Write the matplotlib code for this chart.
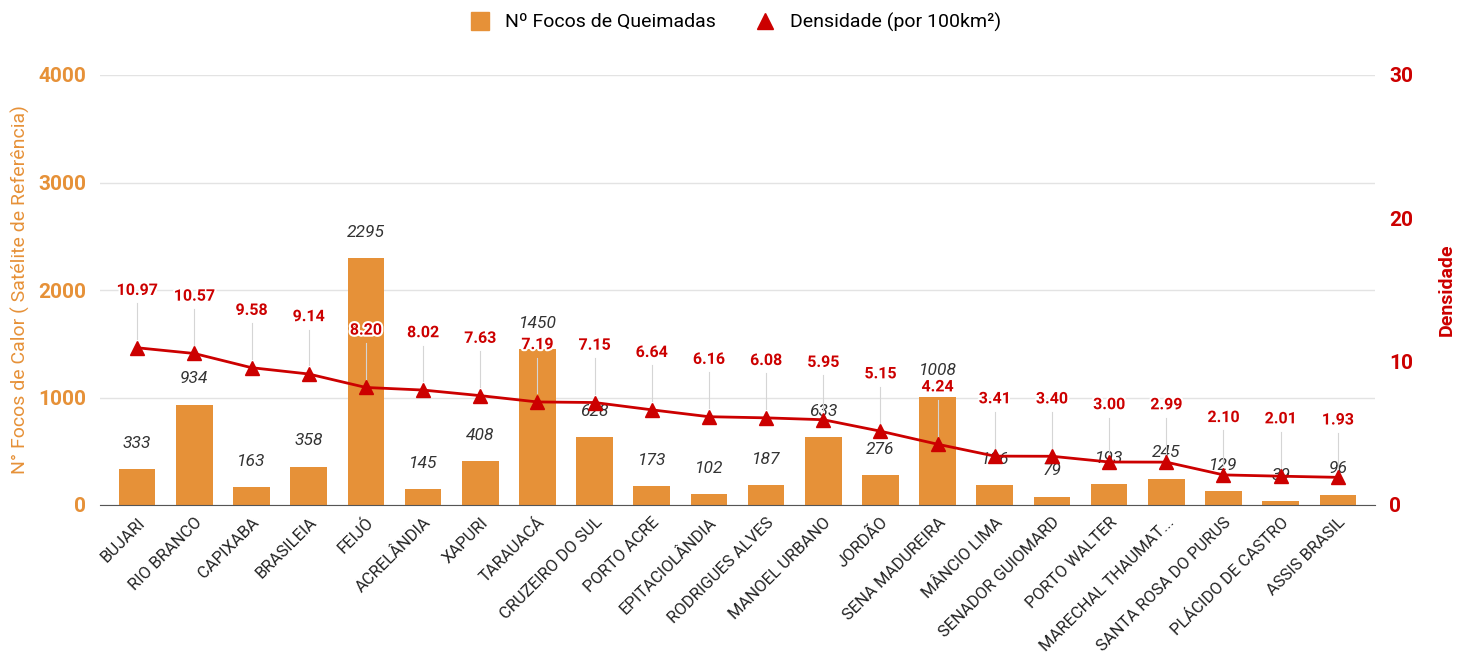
import numpy as np
import matplotlib
matplotlib.use('Agg')
import matplotlib.pyplot as plt
import matplotlib.patheffects as pe
from matplotlib.lines import Line2D

plt.rcParams['font.family'] = ['Roboto', 'DejaVu Sans']

municipios = [
    'BUJARI', 'RIO BRANCO', 'CAPIXABA', 'BRASILEIA', 'FEIJÓ', 'ACRELÂNDIA',
    'XAPURI', 'TARAUACÁ', 'CRUZEIRO DO SUL', 'PORTO ACRE', 'EPITACIOLÂNDIA',
    'RODRIGUES ALVES', 'MANOEL URBANO', 'JORDÃO', 'SENA MADUREIRA',
    'MÂNCIO LIMA', 'SENADOR GUIOMARD', 'PORTO WALTER', 'MARECHAL THAUMAT...',
    'SANTA ROSA DO PURUS', 'PLÁCIDO DE CASTRO', 'ASSIS BRASIL',
]
focos = [333, 934, 163, 358, 2295, 145, 408, 1450, 628, 173, 102,
         187, 633, 276, 1008, 186, 79, 193, 245, 129, 39, 96]
densidade = [10.97, 10.57, 9.58, 9.14, 8.20, 8.02, 7.63, 7.19, 7.15, 6.64, 6.16,
             6.08, 5.95, 5.15, 4.24, 3.41, 3.40, 3.00, 2.99, 2.10, 2.01, 1.93]

ORANGE = '#E69138'
RED = '#CC0000'

fig = plt.figure(figsize=(14.62, 6.58), dpi=100)
ax = fig.add_axes([100 / 1462, 1 - 505 / 658, 1275 / 1462, 430 / 658])
ax2 = ax.twinx()

x = np.arange(len(municipios))
ax.bar(x, focos, width=0.64, color=ORANGE, zorder=2)
ax.set_ylim(0, 4000)
ax.set_yticks([0, 1000, 2000, 3000, 4000])
ax.set_xlim(-0.65, len(municipios) - 0.35)
ax.grid(axis='y', color='#e3e3e3', lw=1, zorder=0)
ax.set_axisbelow(True)
for s in ['top', 'right', 'left']:
    ax.spines[s].set_visible(False)
ax.spines['bottom'].set_color('#555555')
for s in ax2.spines.values():
    s.set_visible(False)

ax.tick_params(axis='y', length=0, colors=ORANGE, labelsize=15, pad=10)
for t in ax.get_yticklabels():
    t.set_fontweight('bold')
ax.set_xticks(x)
ax.set_xticklabels(municipios, rotation=45, ha='right', rotation_mode='anchor',
                   fontsize=12, color='#222222')
ax.tick_params(axis='x', length=0, pad=7)
ax.set_ylabel('N° Focos de Calor ( Satélite de Referência)', color=ORANGE,
              fontsize=14, labelpad=6)

for xi, v in zip(x, focos):
    ax.text(xi, v + 240, str(v), ha='center', va='center', fontsize=12.5,
            style='italic', color='#333333', zorder=5)

ax2.plot(x, densidade, color=RED, lw=2, marker='^', ms=10, zorder=3)
ax2.set_ylim(0, 30)
ax2.set_yticks([0, 10, 20, 30])
ax2.tick_params(axis='y', length=0, colors=RED, labelsize=15, pad=10)
for t in ax2.get_yticklabels():
    t.set_fontweight('bold')
ax2.set_ylabel('Densidade', color=RED, fontsize=14, fontweight='bold', labelpad=18)

for xi, d in zip(x, densidade):
    ax2.plot([xi, xi], [d + 0.6, d + 3.1], color='#d5d5d5', lw=0.8, zorder=2)
    ax2.text(xi, d + 4.0, f'{d:.2f}', ha='center', va='center', fontsize=11.5,
             fontweight='bold', color=RED, zorder=6,
             path_effects=[pe.withStroke(linewidth=3, foreground='white')])

handles = [
    Line2D([], [], ls='none', marker='s', ms=13, color=ORANGE),
    Line2D([], [], ls='none', marker='^', ms=11, color=RED),
]
fig.legend(handles, ['Nº Focos de Queimadas', 'Densidade (por 100km²)'],
           loc='center', bbox_to_anchor=(0.5, 1 - 22 / 658), ncol=2,
           frameon=False, fontsize=14, handletextpad=0.3, columnspacing=1.5)

fig.savefig('out.png', dpi=100)
